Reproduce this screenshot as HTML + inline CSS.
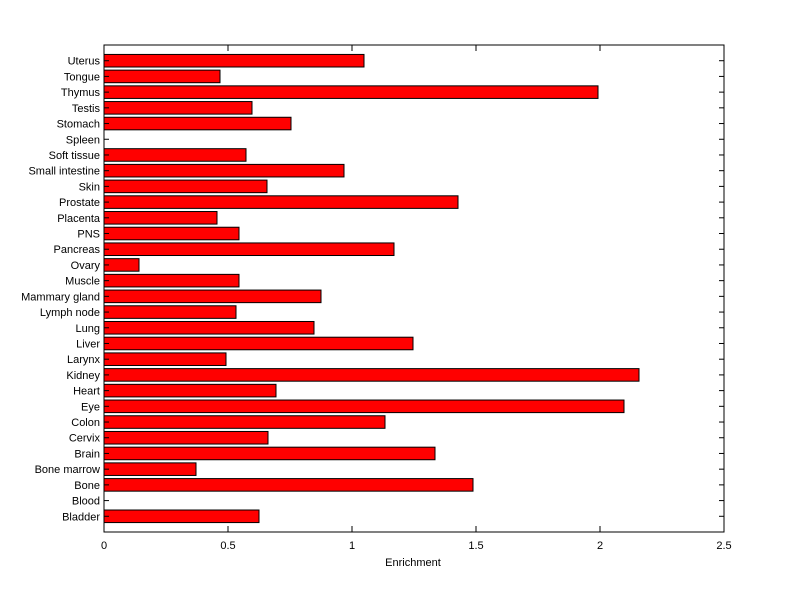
<!DOCTYPE html>
<html><head><meta charset="utf-8"><style>
html,body{margin:0;padding:0;background:#fff;}
svg{display:block;font-family:"Liberation Sans",Arial,sans-serif;font-size:11px;}
</style></head><body>
<svg id="c" width="800" height="599" xmlns="http://www.w3.org/2000/svg">
<rect x="0" y="0" width="800" height="599" fill="#fff"/>
</svg>
<script>
var s=document.getElementById('c'),NS="http://www.w3.org/2000/svg";
function el(t,a,txt){var e=document.createElementNS(NS,t);for(var k in a)e.setAttribute(k,a[k]);if(txt!=null)e.textContent=txt;s.appendChild(e);return e;}
var L=104,R=724,T=45,B=532;
var data=[["Bladder",259],["Blood",104],["Bone",473],["Bone marrow",196],["Brain",435],["Cervix",268],["Colon",385],["Eye",624],["Heart",276],["Kidney",639],["Larynx",226],["Liver",413],["Lung",314],["Lymph node",236],["Mammary gland",321],["Muscle",239],["Ovary",139],["Pancreas",394],["PNS",239],["Placenta",217],["Prostate",458],["Skin",267],["Small intestine",344],["Soft tissue",246],["Spleen",104],["Stomach",291],["Testis",252],["Thymus",598],["Tongue",220],["Uterus",364]];
var step=(B-T)/31;
data.forEach(function(d,i){
  var yc=B-(i+1)*step;
  if(d[1]>L) el('rect',{x:L,y:(yc-step*0.4).toFixed(2),width:d[1]-L,height:(step*0.8).toFixed(2),fill:'#ff0000',stroke:'#000','stroke-width':1});
  el('line',{x1:L,y1:yc,x2:L+5,y2:yc,stroke:'#000'});
  el('line',{x1:R,y1:yc,x2:R-5,y2:yc,stroke:'#000'});
  el('text',{x:100,y:yc+4,'text-anchor':'end'},d[0]);
});
el('rect',{x:L,y:T,width:R-L,height:B-T,fill:'none',stroke:'#000'});
var xl=["0","0.5","1","1.5","2","2.5"];
for(var j=0;j<6;j++){var x=L+j*124;
  el('line',{x1:x,y1:B,x2:x,y2:B-6,stroke:'#000'});
  el('line',{x1:x,y1:T,x2:x,y2:T+6,stroke:'#000'});
  el('text',{x:x,y:549,'text-anchor':'middle'},xl[j]);}
el('text',{x:413,y:566,'text-anchor':'middle'},"Enrichment");
</script>
</body></html>
